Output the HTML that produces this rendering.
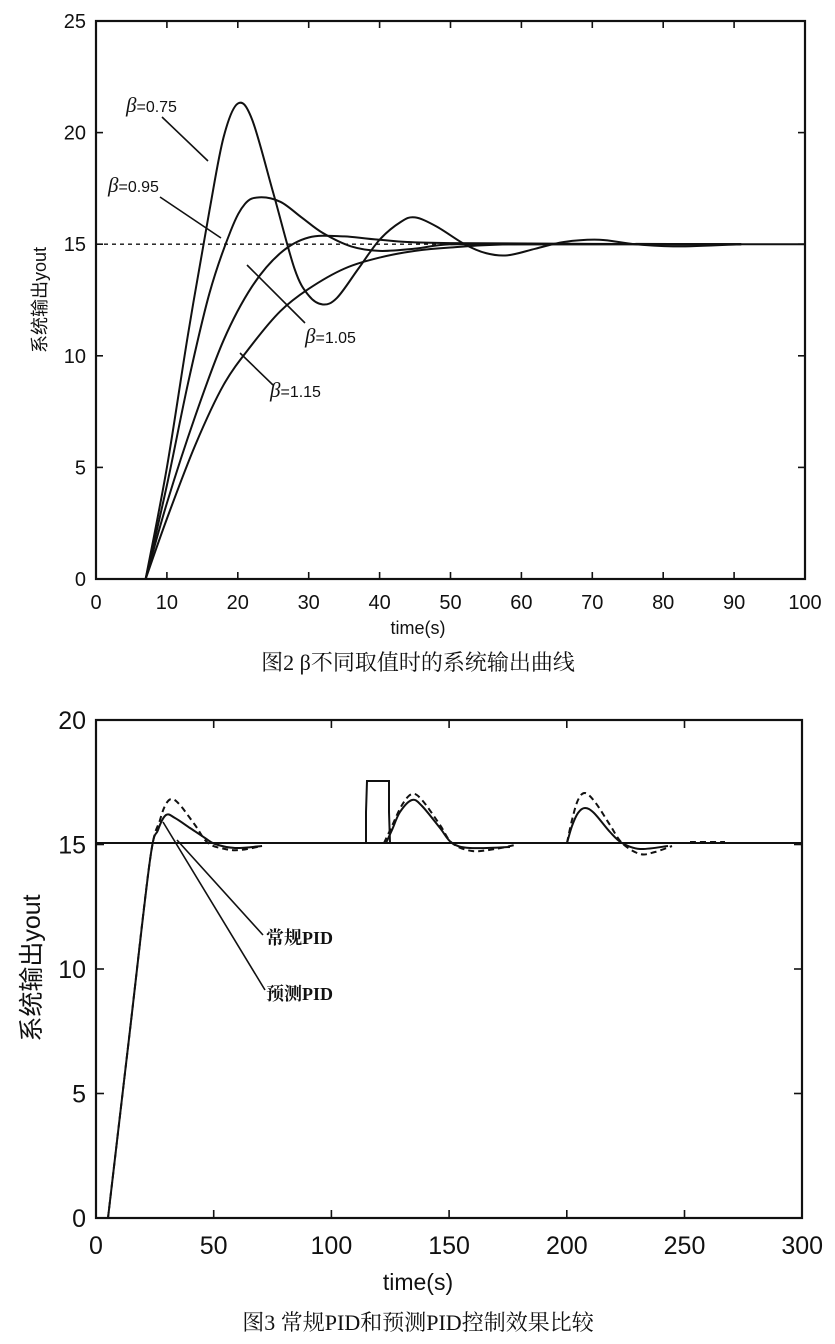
<!DOCTYPE html>
<html><head><meta charset="utf-8"><style>
body{margin:0;background:#fff;width:835px;height:1344px;overflow:hidden}
svg{display:block}
.t{font-family:"Liberation Sans Narrow","Liberation Sans",sans-serif;fill:#111}
.c{font-family:"Liberation Serif","Noto Serif CJK SC",serif;fill:#111}
</style></head><body>
<svg id="s" width="835" height="1344" viewBox="0 0 835 1344" xmlns="http://www.w3.org/2000/svg">
<g fill="none" stroke="#111" stroke-width="2.2">
<rect x="96" y="21" width="709" height="558"/>
<rect x="96" y="720" width="706" height="498"/>
</g>
<g id="g1" fill="none" stroke="#111" stroke-width="2"></g>
<g id="ticks" stroke="#111" stroke-width="1.6"></g>
<g id="lbl"></g>
<g stroke="#111" stroke-width="1.6">
<line x1="162" y1="117" x2="208" y2="161"/>
<line x1="160" y1="197" x2="221" y2="238"/>
<line x1="247" y1="265" x2="305" y2="323"/>
<line x1="240" y1="353" x2="273" y2="385"/>
<line x1="177" y1="840" x2="263" y2="935"/>
<line x1="163" y1="822" x2="265" y2="990"/>
</g>
<g class="t" font-size="16">
<text x="126" y="112"><tspan font-style="italic" font-size="21" font-family="Liberation Serif">β</tspan>=0.75</text>
<text x="108" y="192"><tspan font-style="italic" font-size="21" font-family="Liberation Serif">β</tspan>=0.95</text>
<text x="305" y="343"><tspan font-style="italic" font-size="21" font-family="Liberation Serif">β</tspan>=1.05</text>
<text x="270" y="397"><tspan font-style="italic" font-size="21" font-family="Liberation Serif">β</tspan>=1.15</text>
</g>
<g class="c" font-size="18" font-weight="bold">
<text x="266" y="944">常规PID</text>
<text x="266" y="1000">预测PID</text>
</g>
<text class="t" x="418" y="634" font-size="18" text-anchor="middle">time(s)</text>
<text class="t" x="418" y="1290" font-size="23" text-anchor="middle">time(s)</text>
<text class="t" font-size="18" transform="translate(46,300) rotate(-90)" text-anchor="middle" style="font-family:'Liberation Sans','Noto Sans CJK SC',sans-serif">系统输出yout</text>
<text class="t" font-size="25" transform="translate(40,968) rotate(-90)" text-anchor="middle" style="font-family:'Liberation Sans','Noto Sans CJK SC',sans-serif">系统输出yout</text>
<text class="c" x="418" y="670" font-size="22" text-anchor="middle">图2 β不同取值时的系统输出曲线</text>
<text class="c" x="418" y="1330" font-size="22" text-anchor="middle">图3 常规PID和预测PID控制效果比较</text>
</svg>
<script>
var NS="http://www.w3.org/2000/svg";
function el(p,n,a,txt){var e=document.createElementNS(NS,n);for(var k in a)e.setAttribute(k,a[k]);if(txt!=null)e.textContent=txt;document.getElementById(p).appendChild(e);return e;}
function cr(pts){var d="M"+pts[0][0]+","+pts[0][1];for(var i=0;i<pts.length-1;i++){var p0=pts[i-1]||pts[i],p1=pts[i],p2=pts[i+1],p3=pts[i+2]||p2;
d+=" C"+(p1[0]+(p2[0]-p0[0])/6)+","+(p1[1]+(p2[1]-p0[1])/6)+" "+(p2[0]-(p3[0]-p1[0])/6)+","+(p2[1]-(p3[1]-p1[1])/6)+" "+p2[0]+","+p2[1];}return d;}
var X1=function(t){return 96+7.09*t},Y1=function(v){return 579-22.32*v};
function c1(a){return a.map(function(p){return [X1(p[0]),Y1(p[1])]})}
var curves=[
[[7,0],[10,5],[13,11],[16,16.5],[18,19.8],[20,21.3],[22,20.6],[25,17.3],[28,13.9],[30,12.7],[32,12.3],[34,12.6],[37,13.9],[40,15.2],[43,16],[45,16.2],[48,15.8],[52,15],[55,14.6],[58,14.5],[62,14.8],[66,15.1],[71,15.2],[76,15],[82,14.9],[91,15]],
[[7,0],[10,4.2],[13,8.8],[16,12.8],[19,15.6],[21,16.8],[23,17.1],[26,16.9],[29,16.2],[32,15.5],[36,14.9],[40,14.7],[45,14.8],[50,15],[60,15],[91,15]],
[[7,0],[10,3.4],[14,7.3],[18,10.7],[22,13.1],[26,14.6],[30,15.3],[35,15.35],[40,15.2],[50,15.05],[91,15]],
[[7,0],[10,2.7],[14,6],[18,8.7],[22,10.5],[26,12],[30,13],[35,13.9],[40,14.4],[45,14.7],[50,14.85],[60,15],[91,15]]];
curves.forEach(function(c){el("g1","path",{d:cr(c1(c))})});
el("g1","line",{x1:96,y1:Y1(15),x2:805,y2:Y1(15),"stroke-dasharray":"4,4","stroke-width":1.4});
el("g1","line",{x1:X1(50),y1:Y1(15),x2:805,y2:Y1(15)});
el("g1","line",{x1:96,y1:843,x2:802,y2:843});
el("g1","path",{d:"M366,843 L366,812 L367,781 L389,781 L389,812 L390,843"});
var s2=[
[[108,1218],[130,1030],[150,860],[158,830],[166,815],[175,818],[190,828],[205,838],[215,844],[235,848],[262,846]],
[[386,843],[392,830],[400,812],[412,800],[422,806],[440,828],[452,843],[470,848],[510,847]],
[[567,843],[572,826],[578,813],[585,808],[594,813],[610,832],[622,843],[640,849],[668,846]]];
s2.forEach(function(c){el("g1","path",{d:cr(c)})});
var d2=[
[[108,1218],[130,1030],[150,860],[160,820],[166,804],[172,799],[180,805],[195,825],[208,843],[225,849],[240,850],[262,846]],
[[384,843],[392,826],[402,805],[412,794],[422,800],[440,825],[452,843],[472,851],[495,849],[515,845]],
[[567,843],[572,820],[578,800],[585,793],[595,802],[610,825],[622,843],[640,854],[655,852],[672,846]],
[[690,842],[725,842]]];
d2.forEach(function(c){el("g1","path",{d:cr(c),"stroke-dasharray":"6,4"})});
for(var i=0;i<=10;i++){var x=96+70.9*i;
 if(i>0&&i<10){el("ticks","line",{x1:x,y1:579,x2:x,y2:572});el("ticks","line",{x1:x,y1:21,x2:x,y2:28});}
 el("lbl","text",{x:x,y:609,"class":"t","font-size":20,"text-anchor":"middle"},String(i*10));}
for(var j=0;j<=5;j++){var y=579-111.6*j;
 if(j>0&&j<5){el("ticks","line",{x1:96,y1:y,x2:103,y2:y});el("ticks","line",{x1:805,y1:y,x2:798,y2:y});}
 el("lbl","text",{x:86,y:y+7,"class":"t","font-size":20,"text-anchor":"end"},String(j*5));}
for(var i=0;i<=6;i++){var x=96+117.7*i;
 if(i>0&&i<6){el("ticks","line",{x1:x,y1:1218,x2:x,y2:1210});el("ticks","line",{x1:x,y1:720,x2:x,y2:728});}
 el("lbl","text",{x:x,y:1254,"class":"t","font-size":25,"text-anchor":"middle"},String(i*50));}
for(var j=0;j<=4;j++){var y=1218-124.5*j;
 if(j>0&&j<4){el("ticks","line",{x1:96,y1:y,x2:104,y2:y});el("ticks","line",{x1:802,y1:y,x2:794,y2:y});}
 el("lbl","text",{x:86,y:y+9,"class":"t","font-size":25,"text-anchor":"end"},String(j*5));}
</script>
</body></html>
